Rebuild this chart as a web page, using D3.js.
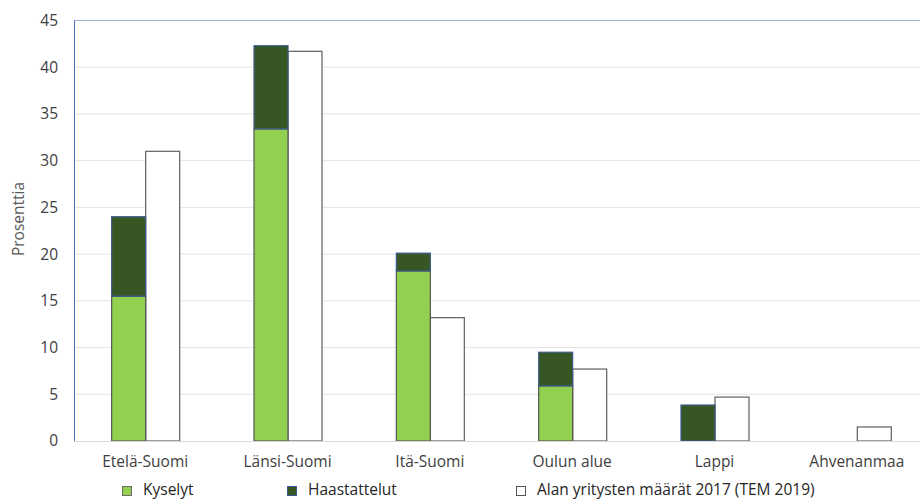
<!DOCTYPE html>
<html>
<head>
<meta charset="utf-8">
<script src="https://cdn.jsdelivr.net/npm/d3@7"></script>
<style>
  html, body { margin: 0; padding: 0; background: #ffffff; }
  svg { display: block; font-family: "Open Sans", "Noto Sans", sans-serif; }
</style>
</head>
<body>
<svg id="chart" width="920" height="502"></svg>
<script>
// Regions and shares (percent)
const regions = ["Etelä-Suomi", "Länsi-Suomi", "Itä-Suomi", "Oulun alue", "Lappi", "Ahvenanmaa"];
const kyselyt = [15.5, 33.4, 18.2, 5.9, 0, 0];
const haastattelut = [8.5, 8.9, 1.9, 3.6, 3.85, 0];
const yritykset = [31.0, 41.7, 13.2, 7.7, 4.7, 1.5];
const yTicks = [0, 5, 10, 15, 20, 25, 30, 35, 40, 45];
const legendLabels = ["Kyselyt", "Haastattelut", "Alan yritysten määrät 2017 (TEM 2019)"];

const svg = d3.select("#chart");
const m = { left: 74, top: 20.5, bottom: 441 };
const plotRight = 928;
const fs = 15.5;

const x = d3.scaleBand().domain(regions).range([m.left, plotRight]).paddingInner(0).paddingOuter(0);
const y = d3.scaleLinear().domain([0, 45]).range([m.bottom, m.top]);
const barW = 34;

// Gridlines
svg.append("g").selectAll("line").data(yTicks.filter(d => d > 0 && d < 45)).join("line")
  .attr("x1", m.left).attr("x2", 920)
  .attr("y1", d => y(d)).attr("y2", d => y(d))
  .attr("stroke", "#e3e3e3").attr("stroke-width", 1);

// Frame: top and left
svg.append("line").attr("x1", m.left).attr("x2", 920).attr("y1", y(45)).attr("y2", y(45))
  .attr("stroke", "#9fb0d0").attr("stroke-width", 1);
svg.append("line").attr("x1", m.left + 0.5).attr("x2", m.left + 0.5).attr("y1", y(45)).attr("y2", y(0))
  .attr("stroke", "#4f72b8").attr("stroke-width", 1);

// Y axis tick labels
const yAxis = d3.axisLeft(y).tickValues(yTicks).tickSize(0).tickPadding(0);
const gy = svg.append("g").attr("transform", `translate(${m.left - 16},0)`).call(yAxis);
gy.select(".domain").remove();
gy.selectAll("text").attr("fill", "#404040").attr("font-size", fs)
  .attr("font-family", "'Open Sans', sans-serif");

// Y title
svg.append("text")
  .attr("transform", `translate(24,219) rotate(-90)`)
  .attr("text-anchor", "middle").attr("fill", "#595959").attr("font-size", fs)
  .text("Prosenttia");

const groups = svg.append("g").selectAll("g").data(regions).join("g")
  .attr("transform", d => `translate(${x(d) + x.bandwidth() / 2},0)`);

// White bars: company counts
groups.append("rect")
  .attr("x", 0.5).attr("width", barW)
  .attr("y", (d, i) => y(yritykset[i]))
  .attr("height", (d, i) => y(0) - y(yritykset[i]))
  .attr("fill", "#ffffff").attr("stroke", "#6b6b6b").attr("stroke-width", 1.3);

// Green: survey responses
groups.filter((d, i) => kyselyt[i] > 0).append("rect")
  .attr("x", -barW + 0.5).attr("width", barW)
  .attr("y", d => y(kyselyt[regions.indexOf(d)]))
  .attr("height", d => y(0) - y(kyselyt[regions.indexOf(d)]))
  .attr("fill", "#92d050").attr("stroke", "#555555").attr("stroke-width", 1.2);

// Dark green: interviews, stacked on survey bars
groups.filter((d, i) => haastattelut[i] > 0).append("rect")
  .attr("x", -barW + 0.5).attr("width", barW)
  .attr("y", d => { const i = regions.indexOf(d); return y(kyselyt[i] + haastattelut[i]); })
  .attr("height", d => { const i = regions.indexOf(d); return y(kyselyt[i]) - y(kyselyt[i] + haastattelut[i]); })
  .attr("fill", "#375623").attr("stroke", "#3a5a8c").attr("stroke-width", 1.2);

// Baseline
svg.append("line").attr("x1", m.left).attr("x2", 920).attr("y1", y(0) + 0.5).attr("y2", y(0) + 0.5)
  .attr("stroke", "#d9d9d9").attr("stroke-width", 1);

// X axis labels
const xAxis = d3.axisBottom(x).tickSize(0).tickPadding(0);
const gx = svg.append("g").attr("transform", `translate(0,${y(0) + 15})`).call(xAxis);
gx.select(".domain").remove();
gx.selectAll("text").attr("fill", "#404040").attr("font-size", fs)
  .attr("font-family", "'Open Sans', sans-serif").attr("dy", "0.71em");

// Legend
const legendX = [122, 287, 516];
const legendFill = ["#92d050", "#375623", "#ffffff"];
const legendStroke = ["#6b6b6b", "#3a5a8c", "#555555"];
const lg = svg.append("g").selectAll("g").data(legendLabels).join("g")
  .attr("transform", (d, i) => `translate(${legendX[i]},486)`);
lg.append("rect").attr("x", 0.5).attr("y", 0.5).attr("width", 9).attr("height", 9)
  .attr("fill", (d, i) => legendFill[i]).attr("stroke", (d, i) => legendStroke[i]).attr("stroke-width", 1);
lg.append("text").attr("x", 21).attr("y", 4).attr("dy", "0.35em")
  .attr("fill", "#262626").attr("font-size", 15.5).text(d => d);
</script>
</body>
</html>
